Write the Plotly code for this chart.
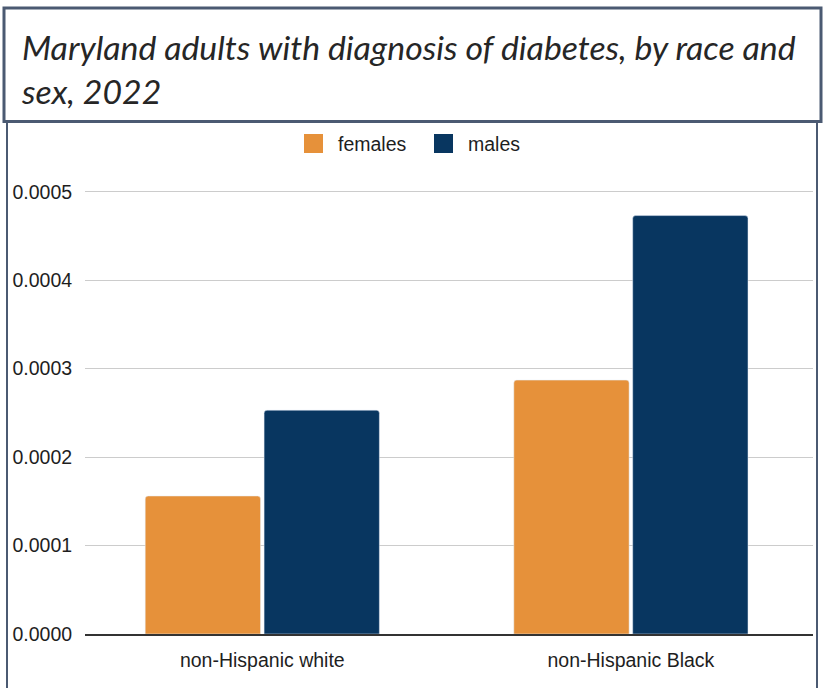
import plotly.graph_objects as go

# Data
categories = ["non-Hispanic white", "non-Hispanic Black"]
females = [0.000156, 0.000287]
males = [0.000253, 0.000473]
series_names = ["females", "males"]
title_text = "Maryland adults with diagnosis of diabetes, by race and<br>sex, 2022"

# Layout constants (pixels)
W, H = 825, 688
ML, MR, MT, MB = 85, 12, 174, 54
ORANGE = "#E6913A"
NAVY = "#083660"
FRAME = "#4B5A72"
FONT = "Liberation Sans, Arial, sans-serif"
TXT = "#1E1E1E"


def px_x(px):
    return (px - ML) / (W - ML - MR)


def px_y(py):
    return (H - MB - py) / (H - MT - MB)


fig = go.Figure()
fig.add_trace(go.Bar(x=categories, y=females, name=series_names[0],
                     marker=dict(color=ORANGE, cornerradius=3)))
fig.add_trace(go.Bar(x=categories, y=males, name=series_names[1],
                     marker=dict(color=NAVY, cornerradius=3)))

shapes = []
# outer chart frame (left and right rules)
shapes.append(dict(type="line", xref="paper", yref="paper",
                   x0=px_x(7), x1=px_x(7), y0=px_y(122), y1=px_y(700),
                   line=dict(color=FRAME, width=2)))
shapes.append(dict(type="line", xref="paper", yref="paper",
                   x0=px_x(817), x1=px_x(817), y0=px_y(122), y1=px_y(700),
                   line=dict(color=FRAME, width=2)))
# title box
shapes.append(dict(type="rect", xref="paper", yref="paper",
                   x0=px_x(4), x1=px_x(821), y0=px_y(8), y1=px_y(121.5),
                   fillcolor="white", line=dict(color=FRAME, width=3), layer="above"))
# legend swatches
for x0, col in [(304, ORANGE), (434, NAVY)]:
    shapes.append(dict(type="rect", xref="paper", yref="paper",
                       x0=px_x(x0), x1=px_x(x0 + 19), y0=px_y(134), y1=px_y(153),
                       fillcolor=col, line=dict(width=0)))

annotations = [
    dict(text=title_text, xref="paper", yref="paper", x=px_x(19), y=px_y(25),
         xanchor="left", yanchor="top", align="left", showarrow=False,
         font=dict(family="Lato", size=33.8, color="#262626", style="italic")),
    dict(text=series_names[0], xref="paper", yref="paper", x=px_x(336), y=px_y(143.5),
         xanchor="left", yanchor="middle", showarrow=False,
         font=dict(family=FONT, size=19.5, color=TXT)),
    dict(text=series_names[1], xref="paper", yref="paper", x=px_x(466), y=px_y(143.5),
         xanchor="left", yanchor="middle", showarrow=False,
         font=dict(family=FONT, size=19.5, color=TXT)),
]

fig.update_layout(
    width=W, height=H,
    margin=dict(l=ML, r=MR, t=MT, b=MB, pad=0),
    paper_bgcolor="white", plot_bgcolor="white",
    barmode="group", bargap=0.355, bargroupgap=0.03,
    showlegend=False,
    font=dict(family=FONT, size=19.5, color=TXT),
    shapes=shapes, annotations=annotations,
)
fig.update_xaxes(range=[-0.481, 1.494], showgrid=False, showline=True,
                 linecolor="#333333", linewidth=1.5, ticks="outside", ticklen=8,
                 tickcolor="rgba(0,0,0,0)",
                 tickfont=dict(size=19.5, color=TXT))
fig.update_yaxes(range=[0, 0.00052], dtick=0.0001, tick0=0, tickformat=".4f",
                 showgrid=True, gridcolor="#CCCCCC", gridwidth=1,
                 zeroline=False, showline=False, ticks="outside", ticklen=8,
                 tickcolor="rgba(0,0,0,0)", tickfont=dict(size=19.5, color=TXT))

fig.write_html("out.html")
